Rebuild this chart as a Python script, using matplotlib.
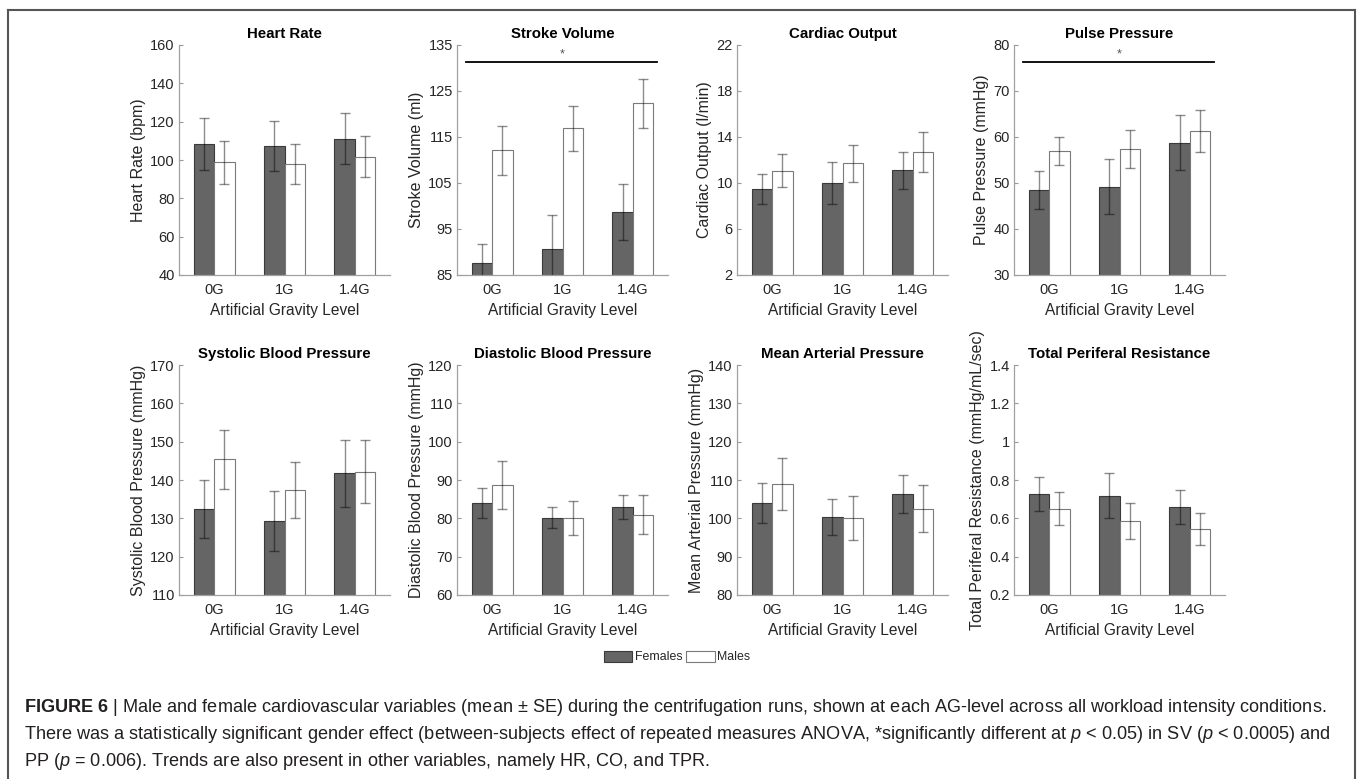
import matplotlib
matplotlib.use('Agg')
import matplotlib.pyplot as plt
from matplotlib.patches import Patch
from matplotlib.lines import Line2D
import numpy as np

plt.rcParams['font.family'] = ['Liberation Sans', 'DejaVu Sans']
plt.rcParams['mathtext.fontset'] = 'custom'
plt.rcParams['mathtext.rm'] = 'Liberation Sans'
plt.rcParams['mathtext.it'] = 'Liberation Sans:italic'
plt.rcParams['mathtext.bf'] = 'Liberation Sans:bold'

# --- datos (media y SE) ---
niveles = ["0G", "1G", "1.4G"]

titulos = ["Heart Rate", "Stroke Volume", "Cardiac Output", "Pulse Pressure",
           "Systolic Blood Pressure", "Diastolic Blood Pressure",
           "Mean Arterial Pressure", "Total Periferal Resistance"]
etiquetas_y = ["Heart Rate (bpm)", "Stroke Volume (ml)", "Cardiac Output (l/min)",
               "Pulse Pressure (mmHg)", "Systolic Blood Pressure (mmHg)",
               "Diastolic Blood Pressure (mmHg)", "Mean Arterial Pressure (mmHg)",
               "Total Periferal Resistance (mmHg/mL/sec)"]

hr_f = [108.5, 107.3, 111.1]
hr_f_se = [13.5, 13.2, 13.3]
hr_m = [98.7, 97.9, 101.7]
hr_m_se = [11.1, 10.5, 10.7]

sv_f = [87.5, 90.7, 98.7]
sv_f_se = [4.2, 7.3, 6.1]
sv_m = [112.1, 116.9, 122.3]
sv_m_se = [5.3, 4.9, 5.3]

co_f = [9.5, 10.0, 11.1]
co_f_se = [1.3, 1.8, 1.6]
co_m = [11.06, 11.7, 12.7]
co_m_se = [1.45, 1.6, 1.75]

pp_f = [48.5, 49.2, 58.8]
pp_f_se = [4.1, 6.0, 6.0]
pp_m = [56.9, 57.4, 61.3]
pp_m_se = [3.05, 4.15, 4.6]

sbp_f = [132.5, 129.3, 141.7]
sbp_f_se = [7.5, 7.9, 8.75]
sbp_m = [145.4, 137.4, 142.2]
sbp_m_se = [7.75, 7.3, 8.3]

dbp_f = [84.1, 80.2, 83.0]
dbp_f_se = [3.9, 2.7, 3.1]
dbp_m = [88.7, 80.1, 81.0]
dbp_m_se = [6.2, 4.45, 5.1]

map_f = [104.1, 100.4, 106.4]
map_f_se = [5.2, 4.65, 4.9]
map_m = [108.9, 100.2, 102.5]
map_m_se = [6.75, 5.75, 6.1]

tpr_f = [0.726, 0.719, 0.657]
tpr_f_se = [0.088, 0.119, 0.089]
tpr_m = [0.650, 0.585, 0.545]
tpr_m_se = [0.087, 0.094, 0.082]

limites = [(40, 160), (85, 135), (2, 22), (30, 80),
           (110, 170), (60, 120), (80, 140), (0.2, 1.4)]
pasos = [20, 10, 4, 10, 10, 10, 10, 0.2]

# barras de significacion (*) en SV y PP
signif = {1: 131.2, 3: 76.2}

hembras = [hr_f, sv_f, co_f, pp_f, sbp_f, dbp_f, map_f, tpr_f]
hembras_se = [hr_f_se, sv_f_se, co_f_se, pp_f_se, sbp_f_se, dbp_f_se, map_f_se, tpr_f_se]
machos = [hr_m, sv_m, co_m, pp_m, sbp_m, dbp_m, map_m, tpr_m]
machos_se = [hr_m_se, sv_m_se, co_m_se, pp_m_se, sbp_m_se, dbp_m_se, map_m_se, tpr_m_se]

W, H = 1360, 779
fig = plt.figure(figsize=(W / 100, H / 100), dpi=100)

izq = [179, 457, 737, 1014]
arriba = [45, 365]
ancho, alto = 211, 230

color_f = '#656565'
gris_txt = '#262626'
x = np.arange(1, 4)
wb = 0.29

for i in range(8):
    fila, col = divmod(i, 4)
    ax = fig.add_axes([izq[col] / W, 1 - (arriba[fila] + alto) / H, ancho / W, alto / H])
    ax.bar(x - wb / 2, hembras[i], wb, color=color_f, edgecolor='#3a3a3a', linewidth=0.8, zorder=2)
    ax.bar(x + wb / 2, machos[i], wb, color='white', edgecolor='#7a7a7a', linewidth=0.8, zorder=2)
    ax.errorbar(x - wb / 2, hembras[i], yerr=hembras_se[i], fmt='none', ecolor='black',
                alpha=0.45, elinewidth=1, capsize=3.5, capthick=1, zorder=3)
    ax.errorbar(x + wb / 2, machos[i], yerr=machos_se[i], fmt='none', ecolor='black',
                alpha=0.45, elinewidth=1, capsize=3.5, capthick=1, zorder=3)

    lo, hi = limites[i]
    ax.set_ylim(lo, hi)
    ax.set_xlim(0.5, 3.5)
    ax.set_yticks(np.round(np.arange(lo, hi + pasos[i] / 2, pasos[i]), 2))
    ax.yaxis.set_major_formatter(matplotlib.ticker.FormatStrFormatter('%g'))
    ax.set_xticks(x)
    ax.set_xticklabels(niveles)
    ax.tick_params(axis='y', direction='in', length=3, color='#999999',
                   labelsize=10.5, labelcolor=gris_txt, pad=3)
    ax.tick_params(axis='x', length=0, labelsize=10.5, labelcolor=gris_txt, pad=6)
    for s in ['top', 'right']:
        ax.spines[s].set_visible(False)
    for s in ['left', 'bottom']:
        ax.spines[s].set_color('#a0a0a0')
        ax.spines[s].set_linewidth(0.9)
    ax.set_ylabel(etiquetas_y[i], fontsize=11.5, color=gris_txt, labelpad=3)
    ax.set_xlabel("Artificial Gravity Level", fontsize=11.2, color=gris_txt, labelpad=4)
    ax.set_title(titulos[i], fontsize=10.8, fontweight='bold', color='black', pad=5)

    if i in signif:
        yy = signif[i]
        ax.plot([0.63, 3.35], [yy, yy], color='black', linewidth=1.3, zorder=4)
        ax.text(2.0, yy + (hi - lo) * 0.008, "*", ha='center', va='bottom',
                fontsize=9, color='#555555')

# leyenda
handles = [Patch(facecolor=color_f, edgecolor='#3a3a3a', linewidth=0.8, label='Females'),
           Patch(facecolor='white', edgecolor='#7a7a7a', linewidth=0.8, label='Males')]
fig.legend(handles=handles, loc='center', bbox_to_anchor=(677 / W, 1 - 657 / H),
           ncol=2, frameon=False, fontsize=8.9, handlelength=2.3, handleheight=1.0,
           handletextpad=0.2, columnspacing=0.3, labelcolor=gris_txt)

# marco de la figura
marco = dict(color='#555555', linewidth=1.5, transform=fig.transFigure, clip_on=False)
fig.add_artist(Line2D([8 / W, 1355 / W], [1 - 10 / H, 1 - 10 / H], **marco))
fig.add_artist(Line2D([8 / W, 8 / W], [1 - 10 / H, 0], **marco))
fig.add_artist(Line2D([1355 / W, 1355 / W], [1 - 10 / H, 0], **marco))

# pie de figura
pie = [
    r"$\bf{FIGURE\ 6}$ | Male and female cardiovascular variables (mean ± SE) during the centrifugation runs, shown at each AG-level across all workload intensity conditions.",
    r"There was a statistically significant gender effect (between-subjects effect of repeated measures ANOVA, *significantly different at $p$ < 0.05) in SV ($p$ < 0.0005) and",
    r"PP ($p$ = 0.006). Trends are also present in other variables, namely HR, CO, and TPR.",
]
for k, linea in enumerate(pie):
    fig.text(24 / W, 1 - (708 + 26.5 * k) / H, linea, ha='left', va='center',
             fontsize=13.05, color='#231f20')

fig.savefig("out.png", dpi=100)
plt.close(fig)
